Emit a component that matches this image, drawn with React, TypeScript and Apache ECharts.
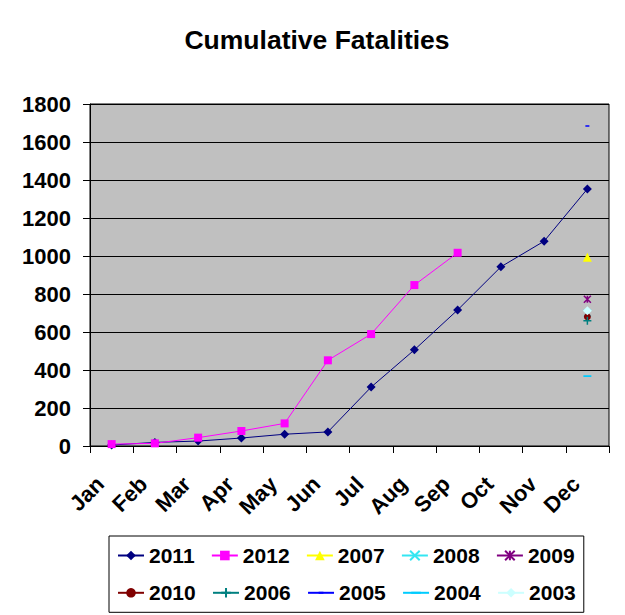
import React, { useEffect, useRef } from "react";
import * as echarts from "echarts";

const months = ["Jan", "Feb", "Mar", "Apr", "May", "Jun", "Jul", "Aug", "Sep", "Oct", "Nov", "Dec"];
const s2011 = [5, 19, 26, 42, 62, 74, 310, 506, 716, 943, 1078, 1353];
const s2012 = [10, 14, 44, 79, 119, 451, 589, 847, 1017, null, null, null];
// single December totals for earlier years
const decTotals: [string, number][] = [
  ["2007", 993],
  ["2008", 700],
  ["2009", 772],
  ["2010", 680],
  ["2006", 659],
  ["2005", 1684],
  ["2004", 368],
  ["2003", 712],
];

const FONT = "Liberation Sans, Arial, sans-serif";

const styles: Record<string, { color: string; symbol: string; size: any; stroke?: boolean }> = {
  "2011": { color: "#000080", symbol: "diamond", size: 9 },
  "2012": { color: "#FF00FF", symbol: "rect", size: 8 },
  "2007": { color: "#FFFF00", symbol: "triangle", size: 9 },
  "2008": { color: "#33E6F2", symbol: "path://M0,0L10,10M10,0L0,10", size: 7, stroke: true },
  "2009": { color: "#800080", symbol: "path://M0,0L10,10M10,0L0,10M5,0L5,10", size: 7, stroke: true },
  "2010": { color: "#800000", symbol: "circle", size: 7 },
  "2006": { color: "#008080", symbol: "path://M5,0L5,10M0,5L10,5", size: 8, stroke: true },
  "2005": { color: "#0000FF", symbol: "path://M0,0L0.01,0M2.5,4L7.5,4L7.5,6L2.5,6ZM10,10L9.99,10", size: 8 },
  "2004": { color: "#00CCFF", symbol: "path://M0,0L0.01,0M0,4L10,4L10,6L0,6ZM10,10L9.99,10", size: 8 },
  "2003": { color: "#CCFFFF", symbol: "diamond", size: 9 },
};

const legendOrder = ["2011", "2012", "2007", "2008", "2009", "2010", "2006", "2005", "2004", "2003"];

function makeSeries(name: string, data: (number | null)[]) {
  const st = styles[name];
  return {
    name,
    type: "line",
    data,
    symbol: st.symbol,
    symbolSize: st.size,
    showAllSymbol: true,
    lineStyle: { color: st.color, width: 1 },
    itemStyle: st.stroke
      ? { color: st.color, borderColor: st.color, borderWidth: 1.5 }
      : { color: st.color, borderWidth: 0 },
    emphasis: { disabled: true },
  };
}

export default function App() {
  const ref = useRef<HTMLDivElement>(null);
  useEffect(() => {
    if (!ref.current) return;
    const chart = echarts.init(ref.current, undefined, { renderer: "svg" });
    const series: any[] = [makeSeries("2011", s2011), makeSeries("2012", s2012)];
    decTotals.forEach(([name, v]) => {
      const arr: (number | null)[] = months.map(() => null);
      arr[months.length - 1] = v;
      series.push(makeSeries(name, arr));
    });
    chart.setOption({
      animation: false,
      backgroundColor: "#FFFFFF",
      title: {
        text: "Cumulative Fatalities",
        left: 312,
        top: 21,
        textAlign: "center",
        textStyle: { fontFamily: FONT, fontWeight: "bold", fontSize: 26.5, color: "#000" },
      },
      legend: {
        data: legendOrder,
        left: 109,
        top: 536,
        width: 466,
        padding: [9, 8, 9, 8],
        itemWidth: 26,
        itemHeight: 12,
        itemGap: 16.3,
        borderColor: "#000",
        borderWidth: 1,
        backgroundColor: "#FFF",
        selectedMode: false,
        textStyle: { fontFamily: FONT, fontWeight: "bold", fontSize: 21, color: "#000", lineHeight: 16 },
      },
      grid: {
        left: 90,
        right: 16,
        top: 104,
        bottom: 169,
        show: true,
        backgroundColor: "#C0C0C0",
        borderColor: "#000",
        borderWidth: 1,
      },
      xAxis: {
        type: "category",
        data: months,
        boundaryGap: true,
        axisLine: { lineStyle: { color: "#000", width: 1 } },
        axisTick: { show: true, length: 7, lineStyle: { color: "#000" } },
        axisLabel: {
          rotate: 45,
          margin: 23,
          padding: [0, 16, 0, 0],
          fontFamily: FONT,
          fontWeight: "bold",
          fontSize: 22,
          color: "#000",
        },
        splitLine: { show: false },
      },
      yAxis: {
        type: "value",
        min: 0,
        max: 1800,
        interval: 200,
        axisLine: { show: true, lineStyle: { color: "#000", width: 1 } },
        axisTick: { show: true, length: 7, lineStyle: { color: "#000" } },
        axisLabel: {
          margin: 19,
          fontFamily: FONT,
          fontWeight: "bold",
          fontSize: 22,
          color: "#000",
          formatter: (v: number) => String(v),
        },
        splitLine: { show: true, lineStyle: { color: "#000", width: 1 } },
      },
      series,
    });
    return () => chart.dispose();
  }, []);
  return (
    <div
      ref={ref}
      style={{ position: "fixed", left: 0, top: 0, width: 625, height: 615 }}
    />
  );
}
